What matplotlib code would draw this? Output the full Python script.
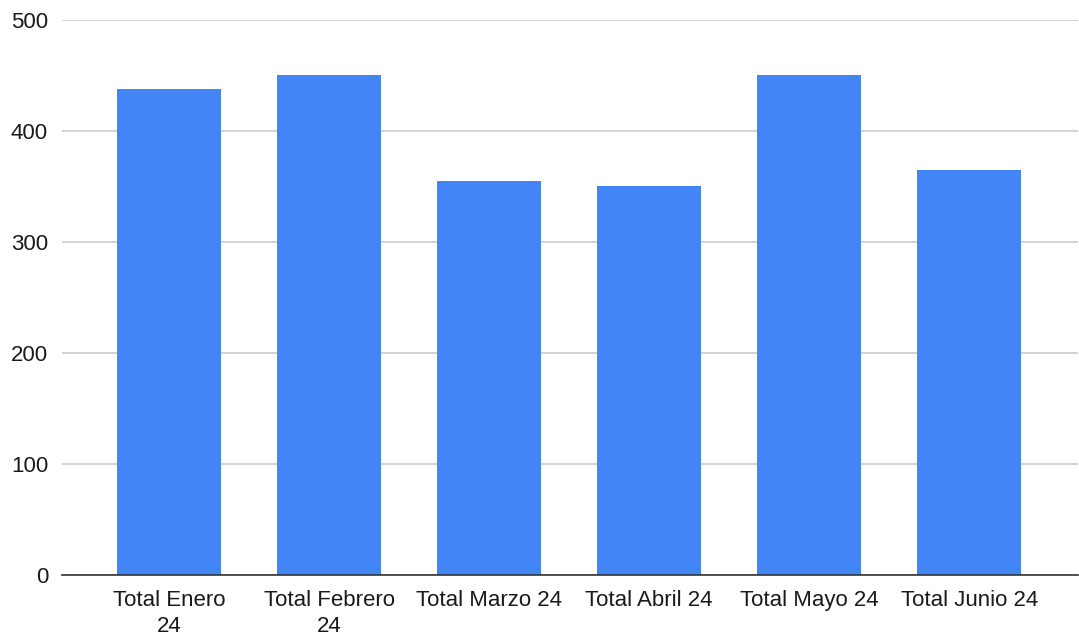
import matplotlib.pyplot as plt

# Data
categories = ["Total Enero\n24", "Total Febrero\n24", "Total Marzo 24",
              "Total Abril 24", "Total Mayo 24", "Total Junio 24"]
totals = [438, 450, 355, 350, 450, 365]
y_ticks = [0, 100, 200, 300, 400, 500]

plt.rcParams['font.family'] = ['Liberation Sans', 'DejaVu Sans']

fig = plt.figure(figsize=(10.79, 6.37), dpi=100)
ax = fig.add_axes([62 / 1079, 1 - 575 / 637, (1078 - 62) / 1079, (575 - 20) / 637])

x = range(len(categories))
ax.bar(x, totals, width=0.65, color="#4285F4", zorder=3)

ax.set_ylim(0, 500)
ax.set_xlim(-0.67, 5.68)
ax.set_yticks(y_ticks)
ax.set_xticks(list(x))
ax.set_xticklabels(categories, linespacing=1.3)

ax.grid(axis="y", color="#cccccc", linewidth=1.2, zorder=0)
for side in ["top", "right", "left"]:
    ax.spines[side].set_visible(False)
ax.spines["bottom"].set_color("#333333")
ax.spines["bottom"].set_linewidth(1.2)
ax.spines["bottom"].set_zorder(4)

ax.tick_params(axis="both", length=0, labelsize=16, colors="#1a1a1a")
ax.tick_params(axis="y", pad=10)
ax.tick_params(axis="x", pad=11)

fig.savefig("out.png", dpi=100)
